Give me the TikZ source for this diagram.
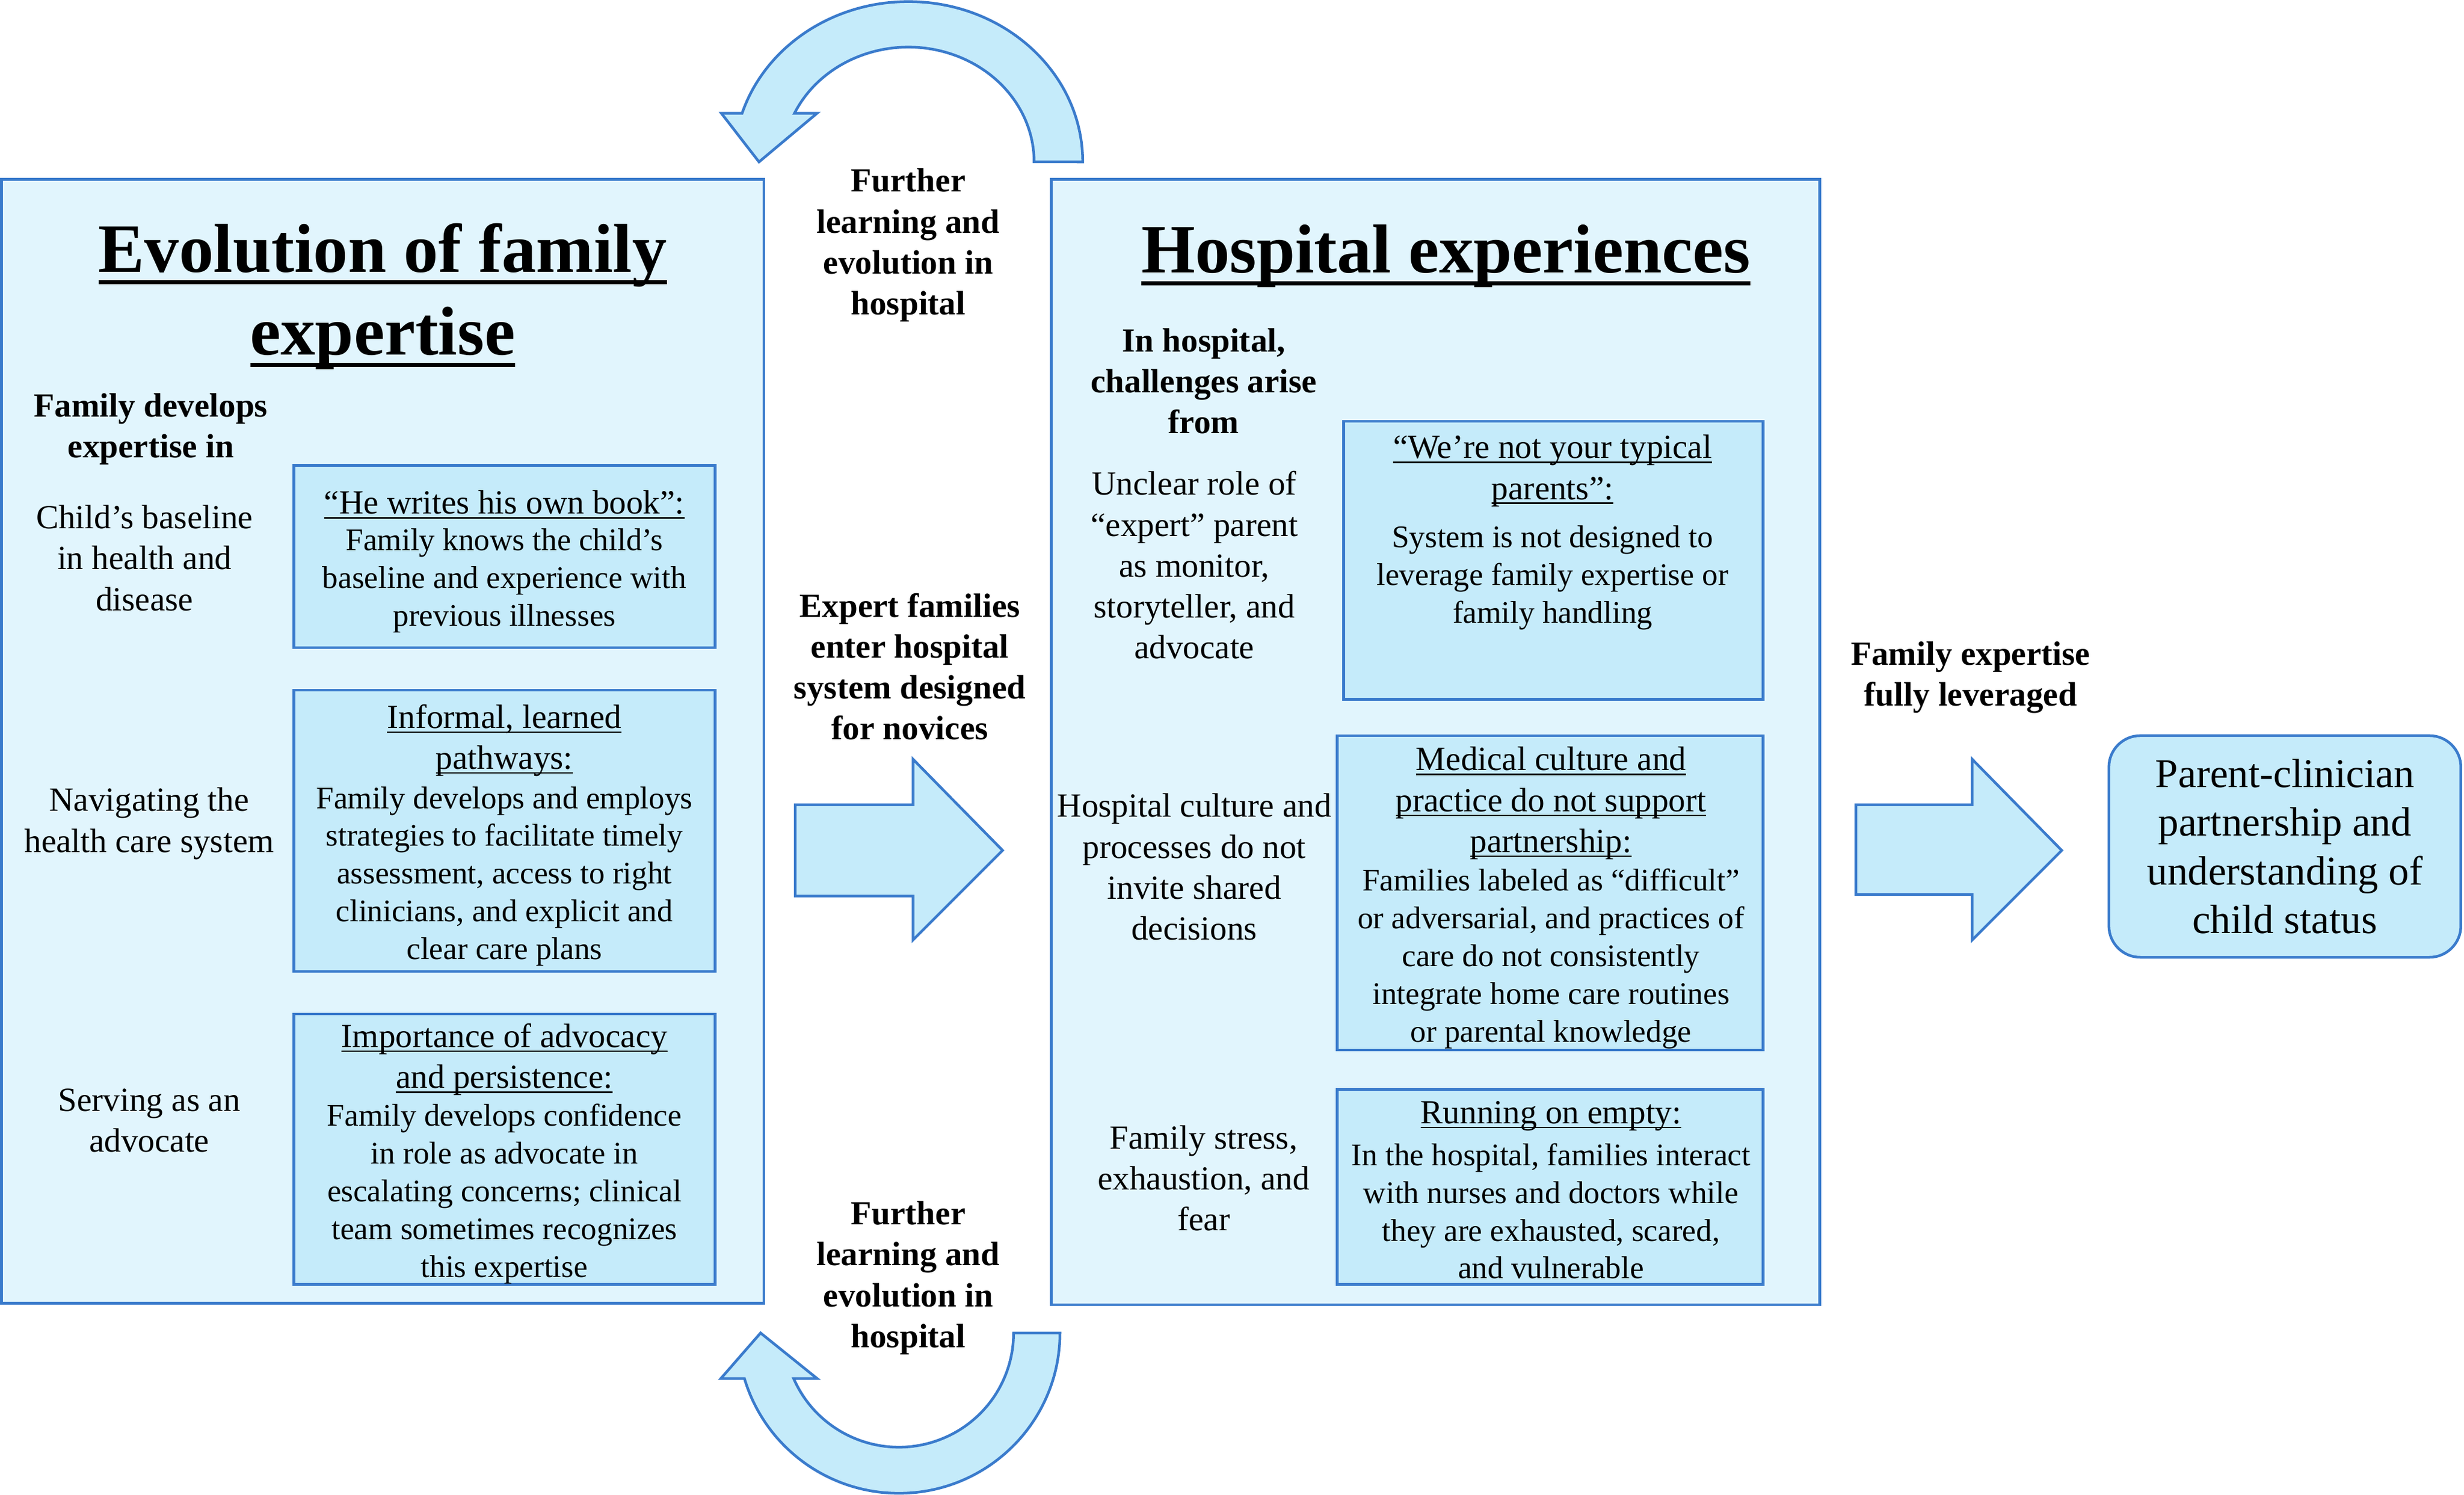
\documentclass[tikz,border=0pt]{standalone}
\usepackage{fontspec}
\setmainfont{Liberation Serif}
\newsavebox\ulbox
\newcommand\myul[1]{\sbox\ulbox{#1}\rlap{\rule[-0.14em]{\wd\ulbox}{0.045em}}\usebox\ulbox}
\newcommand\myulb[1]{\sbox\ulbox{#1}\rlap{\rule[-0.18em]{\wd\ulbox}{0.06em}}\usebox\ulbox}
\definecolor{bord}{HTML}{3A7BCC}
\definecolor{outerfill}{HTML}{E1F5FD}
\definecolor{innerfill}{HTML}{C5EBFA}
\tikzset{
  outerbox/.style={draw=bord, fill=outerfill, line width=1.7pt, inner sep=0pt},
  innerbox/.style={draw=bord, fill=innerfill, line width=1.7pt, inner sep=0pt},
  blockarrow/.style={draw=bord, fill=innerfill, line width=1.7pt, line join=miter},
  lbl/.style={align=center, inner sep=0pt, font=\fontsize{21.5}{26}\selectfont},
  blbl/.style={align=center, inner sep=0pt, font=\fontsize{21.5}{26}\selectfont\bfseries},
  headtxt/.style={align=center, inner sep=0pt, font=\fontsize{21.5}{26}\selectfont},
  bodytxt/.style={align=center, inner sep=0pt, font=\fontsize{20}{24}\selectfont},
  ttl/.style={align=center, inner sep=0pt, font=\fontsize{44}{52.5}\selectfont\bfseries},
}
\begin{document}
\begin{tikzpicture}[x=1pt,y=-1pt]
\useasboundingbox (0,0) rectangle (1568,951);

% outer panels
\node[outerbox, minimum width=485pt, minimum height=715pt] (L) at (243.5,471.5) {};
\node[outerbox, minimum width=489pt, minimum height=716pt] (R) at (913.5,472) {};

% inner boxes left
\node[innerbox, minimum width=268pt, minimum height=116pt] (b1) at (321,354) {};
\node[innerbox, minimum width=268pt, minimum height=179pt] (b2) at (321,528.5) {};
\node[innerbox, minimum width=268pt, minimum height=172pt] (b3) at (321,731) {};
% inner boxes right
\node[innerbox, minimum width=267pt, minimum height=177pt] (bA) at (988.5,356.5) {};
\node[innerbox, minimum width=271pt, minimum height=200pt] (bB) at (986.5,568) {};
\node[innerbox, minimum width=271pt, minimum height=124pt] (bC) at (986.5,755) {};

% titles
\node[ttl] (ttlL) at (243.5,188.5) {\myulb{Evolution of family}\\\myulb{expertise}};
\node[ttl] (ttlR) at (920,163) {\myulb{Hospital experiences}};

% left labels
\node[blbl] (famdev) at (96,273) {Family develops\\expertise in};
\node[lbl] (child) at (92,355) {Child’s baseline\\in health and\\disease};
\node[lbl] (navig) at (95,524) {Navigating the\\health care system};
\node[lbl] (serv) at (95,713) {Serving as an\\advocate};

% left box texts
\node[headtxt] (h1) at (321,321) {\myul{“He writes his own book”:}};
\node[bodytxt] (t1) at (321,369.5) {Family knows the child’s\\baseline and experience with\\previous illnesses};
\node[headtxt] (h2) at (321,471) {\myul{Informal, learned}\\\myul{pathways:}};
\node[bodytxt] (t2) at (321,557.5) {Family develops and employs\\strategies to facilitate timely\\assessment, access to right\\clinicians, and explicit and\\clear care plans};
\node[headtxt] (h3) at (321,674) {\myul{Importance of advocacy}\\\myul{and persistence:}};
\node[bodytxt] (t3) at (321,759.5) {Family develops confidence\\in role as advocate in\\escalating concerns; clinical\\team sometimes recognizes\\this expertise};

% right labels
\node[blbl] (inhosp) at (766,242.5) {In hospital,\\challenges arise\\from};
\node[lbl] (unclear) at (760,359.5) {Unclear role of\\“expert” parent\\as monitor,\\storyteller, and\\advocate};
\node[lbl] (culture) at (760,551.5) {Hospital culture and\\processes do not\\invite shared\\decisions};
\node[lbl] (stress) at (766,749.5) {Family stress,\\exhaustion, and\\fear};

% right box texts
\node[headtxt] (hA) at (988,299.5) {\myul{“We’re not your typical}\\\myul{parents”:}};
\node[bodytxt] (tA) at (988,367.5) {System is not designed to\\leverage family expertise or\\family handling};
\node[headtxt] (hB) at (987,511) {\myul{Medical culture and}\\\myul{practice do not support}\\\myul{partnership:}};
\node[bodytxt] (tB) at (987,610) {Families labeled as “difficult”\\or adversarial, and practices of\\care do not consistently\\integrate home care routines\\or parental knowledge};
\node[headtxt] (hC) at (987,710) {\myul{Running on empty:}};
\node[bodytxt] (tC) at (987,770.5) {In the hospital, families interact\\with nurses and doctors while\\they are exhausted, scared,\\and vulnerable};

% middle labels
\node[blbl] (furtherT) at (578,156) {Further\\learning and\\evolution in\\hospital};
\node[blbl] (expert) at (579,424) {Expert families\\enter hospital\\system designed\\for novices};
\node[blbl] (furtherB) at (578,813) {Further\\learning and\\evolution in\\hospital};

% right side
\node[blbl] (lever) at (1254,431) {Family expertise\\fully leveraged};
\node[innerbox, rounded corners=20pt, minimum width=224pt, minimum height=141pt,
      align=center, font=\fontsize{26}{31}\selectfont] (parent) at (1454,538.5)
      {Parent-clinician\\partnership and\\understanding of\\child status};

% straight block arrows
\draw[blockarrow] (506,512) -- (581,512) -- (581,483) -- (638,541) -- (581,598) -- (581,570) -- (506,570) -- cycle;
\draw[blockarrow] (1181,512) -- (1255,512) -- (1255,483) -- (1312,541) -- (1255,598) -- (1255,569) -- (1181,569) -- cycle;

% curved arrow top
\draw[blockarrow] (689,103) arc[start angle=0, end angle=-162.3, x radius=111, y radius=102]
  -- (459,72) -- (483,103) -- (520,72) -- (505.6,72)
  arc[start angle=-154.9, end angle=0, x radius=80, y radius=73] -- cycle;
% curved arrow bottom
\draw[blockarrow] (674.5,848) arc[start angle=0, end angle=163.5, x radius=102.5, y radius=102]
  -- (458.7,877) -- (484,848) -- (520,877) -- (505.05,877)
  arc[start angle=156.5, end angle=0, x radius=73, y radius=72.6] -- cycle;
\end{tikzpicture}
\end{document}
